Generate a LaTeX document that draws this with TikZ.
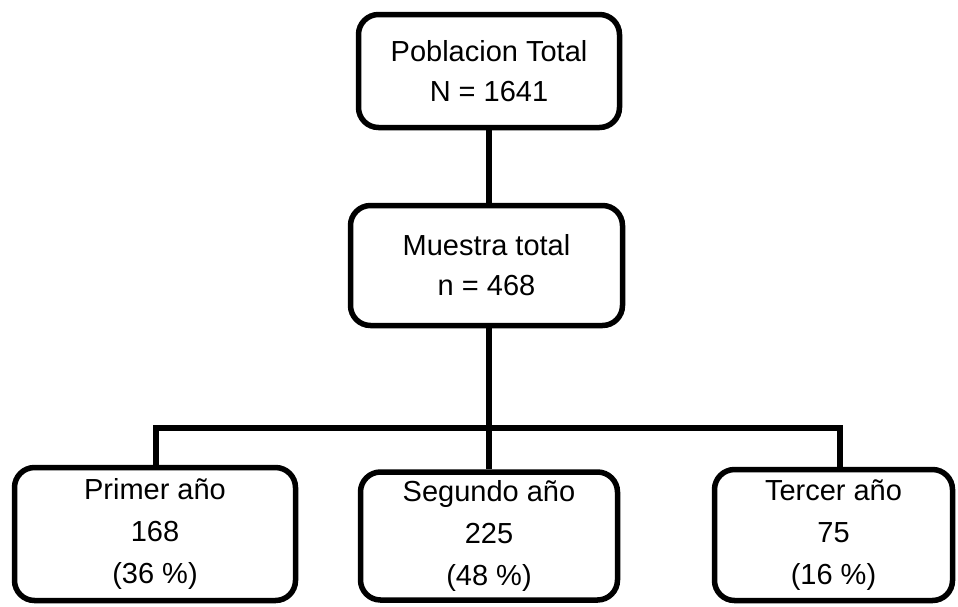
\documentclass[tikz,border=0pt]{standalone}
\usepackage{fontspec}
\setmainfont{Liberation Sans}
\begin{document}
\begin{tikzpicture}[x=1pt,y=-1pt,
  box/.style={draw=black,line width=5.5pt,rounded corners=20pt,fill=white,
    align=center,inner sep=0pt,font=\fontsize{29}{40}\selectfont},
  lowbox/.style={box,font=\fontsize{29}{42}\selectfont},
  link/.style={draw=black,line width=5.5pt}]
\useasboundingbox (0,0) rectangle (958,606);
\node[box,minimum width=261pt,minimum height=113pt] (top) at (489,71) {Poblacion Total\\N = 1641};
\node[box,minimum width=272pt,minimum height=120pt] (mid) at (486.5,265.5) {Muestra total\\n = 468};
\node[lowbox,minimum width=281pt,minimum height=133pt] (b1) at (155,534) {Primer año\\168\\(36 \%)};
\node[lowbox,minimum width=257pt,minimum height=128pt] (b2) at (489,536) {Segundo año\\225\\(48 \%)};
\node[lowbox,minimum width=238pt,minimum height=131pt] (b3) at (833.5,535) {Tercer año\\75\\(16 \%)};
\coordinate (j) at (489,428);
\coordinate (jl) at (156,428);
\coordinate (jr) at (840,428);
\draw[link] (top.south -| j) -- (mid.north -| j);
\draw[link] (mid.south -| j) -- (b2.north -| j);
\draw[link] (b1.north -| jl) -- (jl) -- (jr) -- (b3.north -| jr);
\end{tikzpicture}
\end{document}
